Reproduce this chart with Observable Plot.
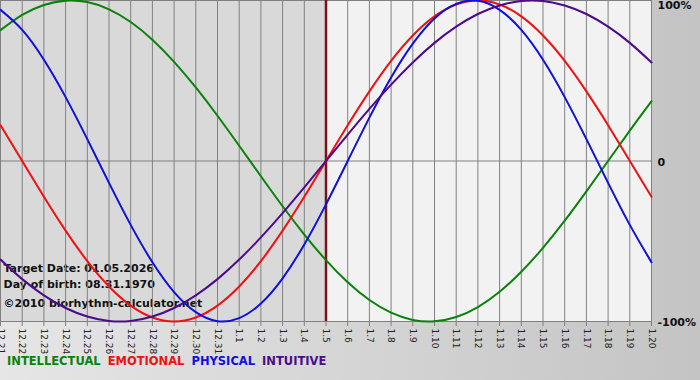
<!DOCTYPE html>
<html><head><meta charset="utf-8">
<script src="https://cdn.jsdelivr.net/npm/d3@7"></script>
<script src="https://cdn.jsdelivr.net/npm/@observablehq/plot@0.6"></script>
<style>
body{margin:0;}
#wrap{position:relative;width:700px;height:380px;overflow:hidden;background:linear-gradient(to right,#e6e6e6,#c4c4c4);font-family:"DejaVu Sans",Verdana,sans-serif;}
#legend{position:absolute;left:7px;top:354px;font-size:11.5px;font-weight:bold;white-space:nowrap;line-height:14px;}
#legend span{margin-right:7px}
</style></head><body><div id="wrap"><div id="chart"></div><div id="legend"></div></div>
<script>
const dates = ["2025-12-21","2025-12-22","2025-12-23","2025-12-24","2025-12-25","2025-12-26","2025-12-27","2025-12-28","2025-12-29","2025-12-30","2025-12-31",
"2026-01-01","2026-01-02","2026-01-03","2026-01-04","2026-01-05","2026-01-06","2026-01-07","2026-01-08","2026-01-09","2026-01-10",
"2026-01-11","2026-01-12","2026-01-13","2026-01-14","2026-01-15","2026-01-16","2026-01-17","2026-01-18","2026-01-19","2026-01-20"];
const targetDate = "2026-01-05";
const intellectual = [0.815,0.910,0.972,0.999,0.990,0.945,0.866,0.756,0.618,0.458,0.282,0.095,-0.095,-0.282,-0.458,-0.618,-0.756,-0.866,-0.945,-0.990,-0.999,-0.972,-0.910,-0.815,-0.690,-0.541,-0.372,-0.189,0,0.189,0.372];
const emotional = [0.223,0,-0.223,-0.434,-0.624,-0.782,-0.901,-0.975,-1,-0.975,-0.901,-0.782,-0.624,-0.434,-0.223,0,0.223,0.434,0.624,0.782,0.901,0.975,1,0.975,0.901,0.782,0.624,0.434,0.223,0,-0.223];
const physical = [0.942,0.817,0.631,0.398,0.136,-0.136,-0.398,-0.631,-0.817,-0.942,-0.998,-0.979,-0.888,-0.731,-0.520,-0.270,0,0.270,0.520,0.731,0.888,0.979,0.998,0.942,0.817,0.631,0.398,0.136,-0.136,-0.398,-0.631];
const intuitive = [-0.614,-0.736,-0.837,-0.916,-0.969,-0.997,-0.997,-0.969,-0.916,-0.837,-0.736,-0.614,-0.476,-0.325,-0.165,0,0.165,0.325,0.476,0.614,0.736,0.837,0.916,0.969,0.997,0.997,0.969,0.916,0.837,0.736,0.614];
const seriesNames = ["INTELLECTUAL","EMOTIONAL","PHYSICAL","INTUITIVE"];
const seriesColors = ["#0a820a","#ee1111","#1010dd","#4b0b8a"];
const yTicks = [1, 0, -1];
const yLabels = ["100%", "0", "-100%"];
const annotations = ["Target Date: 01.05.2026", "Day of birth: 08.31.1970", "\u00A92010 biorhythm-calculator.net"];

const parse = d3.utcParse("%Y-%m-%d");
const X = dates.map(parse);
const T = parse(targetDate);
const endDate = X[X.length - 1];
const seriesValues = [intellectual, emotional, physical, intuitive];
const rows = [];
seriesNames.forEach((name, i) => seriesValues[i].forEach((v, j) => rows.push({date: X[j], value: v, series: name})));
const yAxis = yTicks.map((v, i) => ({v, label: yLabels[i]}));
const fmt = d => `${d.getUTCMonth() + 1}.${d.getUTCDate()}`;
const annoDy = [-50, -34, -15];

const chart = Plot.plot({
  width: 700, height: 350,
  marginTop: 0, marginLeft: 0, marginRight: 49, marginBottom: 29,
  style: {background: "transparent", fontFamily: "DejaVu Sans, Verdana, sans-serif", overflow: "visible"},
  x: {type: "utc", domain: [X[0], endDate]},
  y: {domain: [-1, 1], axis: null},
  color: {domain: seriesNames, range: seriesColors},
  marks: [
    Plot.rect([{a: X[0], b: T}], {x1: "a", x2: "b", y1: -1, y2: 1, fill: "#d9d9d9"}),
    Plot.rect([{a: T, b: endDate}], {x1: "a", x2: "b", y1: -1, y2: 1, fill: "#f2f2f2"}),
    ...annotations.map((t, i) => Plot.text([t], {frameAnchor: "bottom-left", text: d => d, dx: 3, dy: annoDy[i], textAnchor: "start", fontWeight: "bold", fontSize: 11, fill: "#111"})),
    Plot.ruleX(X, {y1: -1, y2: 1, stroke: "#808080", strokeWidth: 1}),
    Plot.ruleY(yTicks, {stroke: "#808080", strokeWidth: 1}),
    Plot.axisX(X, {tickFormat: fmt, tickRotate: 90, tickSize: 5, tickPadding: 2, fontSize: 9, stroke: "#808080", fill: "#222", label: null}),
    Plot.ruleX([T], {y1: -1, y2: 1, stroke: "#7a1414", strokeWidth: 2.5}),
    Plot.line(rows, {x: "date", y: "value", stroke: "series", strokeWidth: 2, curve: "natural"}),
    Plot.text(yAxis, {filter: d => d.v === 1, x: () => endDate, y: "v", text: "label", dx: 6, dy: 1, lineAnchor: "top", textAnchor: "start", fontWeight: "bold", fontSize: 11, fill: "#111"}),
    Plot.text(yAxis, {filter: d => d.v !== 1, x: () => endDate, y: "v", text: "label", dx: 6, dy: 1, textAnchor: "start", fontWeight: "bold", fontSize: 11, fill: "#111"})
  ]
});
document.getElementById("chart").appendChild(chart);
const legend = document.getElementById("legend");
seriesNames.forEach((name, i) => {
  const s = document.createElement("span");
  s.textContent = name;
  s.style.color = seriesColors[i];
  legend.appendChild(s);
});
</script>
</body></html>
